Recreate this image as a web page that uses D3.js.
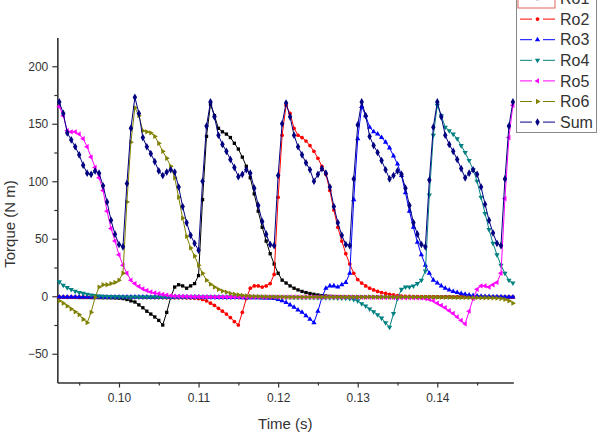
<!DOCTYPE html>
<html>
<head>
<meta charset="utf-8">
<script src="https://cdn.jsdelivr.net/npm/d3@7"></script>
<style>
body { margin: 0; background: #fff; }
svg { font-family: Arial, "Liberation Sans", sans-serif; }
.axis path, .axis line { stroke: #333; stroke-width: 1.2px; }
.axis text { fill: #333; font-size: 12px; }
</style>
</head>
<body>
<div id="chart"></div>
<script>

// sample times (s)
var time = [
0.0925,0.0930,0.0935,0.0940,0.0945,0.0950,0.0955,0.0960,0.0965,0.0970,
0.0975,0.0980,0.0985,0.0990,0.0995,0.1000,0.1005,0.1010,0.1015,0.1020,
0.1025,0.1030,0.1035,0.1040,0.1045,0.1050,0.1055,0.1060,0.1065,0.1070,
0.1075,0.1080,0.1085,0.1090,0.1095,0.1100,0.1105,0.1110,0.1115,0.1120,
0.1125,0.1130,0.1135,0.1140,0.1145,0.1150,0.1155,0.1160,0.1165,0.1170,
0.1175,0.1180,0.1185,0.1190,0.1195,0.1200,0.1205,0.1210,0.1215,0.1220,
0.1225,0.1230,0.1235,0.1240,0.1245,0.1250,0.1255,0.1260,0.1265,0.1270,
0.1275,0.1280,0.1285,0.1290,0.1295,0.1300,0.1305,0.1310,0.1315,0.1320,
0.1325,0.1330,0.1335,0.1340,0.1345,0.1350,0.1355,0.1360,0.1365,0.1370,
0.1375,0.1380,0.1385,0.1390,0.1395,0.1400,0.1405,0.1410,0.1415,0.1420,
0.1425,0.1430,0.1435,0.1440,0.1445,0.1450,0.1455,0.1460,0.1465,0.1470,
0.1475,0.1480,0.1485,0.1490,0.1495];

// torque (N m), one row per 19 samples
var ro1 = [
-0.9,-0.9,-1.0,-1.0,-1.0,-1.1,-1.1,-1.1,-1.2,-1.2,-1.2,-1.3,-1.3,-1.4,-1.5,-1.7,-2.0,-2.8,-4,
-5,-7.5,-10,-13,-15.5,-18,-21,-25,-14,-1,8,10,9,7,9,11,18,84,139,
167,157,146,143,141,138,133,128,121,113,103,89,74,60,48,37,28,20,14,
11.5,9,7,5.5,4.2,3.2,2.4,1.7,1.1,0.6,0.2,-0.1,-0.2,-0.3,-0.4,-0.5,-0.5,-0.6,-0.6,
-0.7,-0.7,-0.7,-0.7,-0.7,-0.7,-0.7,-0.7,-0.7,-0.7,-0.7,-0.7,-0.7,-0.7,-0.7,-0.7,-0.7,-0.7,-0.7,
-0.7,-0.7,-0.6,-0.7,-0.8,-0.7,-0.6,-0.7,-0.7,-0.8,-0.7,-0.6,-0.7,-0.7,-0.8,-0.7,-0.7,-0.8,-0.8,
-0.9];

var ro2 = [
-0.7,-0.7,-0.6,-0.7,-0.8,-0.7,-0.6,-0.7,-0.7,-0.8,-0.7,-0.6,-0.7,-0.7,-0.8,-0.7,-0.7,-0.8,-0.8,
-0.9,-0.9,-1.0,-1.0,-1.0,-1.1,-1.1,-1.1,-1.2,-1.2,-1.2,-1.3,-1.3,-1.4,-1.5,-1.7,-2.0,-2.8,-4,
-6,-8,-10.5,-13,-15.5,-18.5,-22,-25,-14,-2,7,9,9,8,9,11,19,86,140,
166,159,146,140,138,135,131,126,120,113,106,92,75,60,48,37,28,20,14.5,
11.5,9,7,5.5,4.2,3.2,2.4,1.7,1.1,0.6,0.2,-0.1,-0.2,-0.3,-0.4,-0.5,-0.5,-0.6,-0.6,
-0.7,-0.7,-0.7,-0.7,-0.7,-0.7,-0.7,-0.7,-0.7,-0.7,-0.7,-0.7,-0.7,-0.7,-0.7,-0.7,-0.7,-0.7,-0.7,
-0.7];

var ro3 = [
-0.7,-0.7,-0.7,-0.7,-0.7,-0.7,-0.7,-0.7,-0.7,-0.7,-0.7,-0.7,-0.7,-0.7,-0.7,-0.7,-0.7,-0.7,-0.7,
-0.7,-0.7,-0.6,-0.7,-0.8,-0.7,-0.6,-0.7,-0.7,-0.8,-0.7,-0.6,-0.7,-0.7,-0.8,-0.7,-0.7,-0.8,-0.8,
-0.9,-0.9,-1.0,-1.0,-1.0,-1.1,-1.1,-1.1,-1.2,-1.2,-1.2,-1.3,-1.3,-1.4,-1.5,-1.7,-2.0,-2.8,-4,
-5.5,-7.5,-9.5,-12,-14,-17,-20,-23,-13,-1,7,9,9,8,10,12,20,84,137,
165,157,147,143,141,138,134,129,122,115,105,90,74,60,47,36,27,20,14,
11.5,9,7,5.5,4.2,3.2,2.4,1.7,1.1,0.6,0.2,-0.1,-0.2,-0.3,-0.4,-0.5,-0.5,-0.6,-0.6,
-0.7];

var ro4 = [
12.5,9.5,7.5,5.8,4.4,3.3,2.5,1.7,1.1,0.6,0.2,-0.1,-0.2,-0.3,-0.4,-0.5,-0.5,-0.6,-0.6,
-0.7,-0.7,-0.7,-0.7,-0.7,-0.7,-0.7,-0.7,-0.7,-0.7,-0.7,-0.7,-0.7,-0.7,-0.7,-0.7,-0.7,-0.7,-0.7,
-0.7,-0.7,-0.6,-0.7,-0.8,-0.7,-0.6,-0.7,-0.7,-0.8,-0.7,-0.6,-0.7,-0.7,-0.8,-0.7,-0.7,-0.8,-0.8,
-0.9,-0.9,-1.0,-1.0,-1.0,-1.1,-1.1,-1.1,-1.2,-1.2,-1.2,-1.3,-1.3,-1.4,-1.5,-1.7,-2.0,-2.8,-4,
-6.5,-8.5,-11,-13.5,-16,-19,-23,-27,-15,-2,6,8,8,9,11,14,22,88,140,
166,157,147,144,141,137,131,125,118,110,100,86,72,58,46,36,27,20,14,
11.5];

var ro5 = [
165,157,144,143,143,141,137,130,121,112,103,92,74,59,48,36,27,20,14,
11,8.5,6.5,5,3.8,2.9,2.2,1.6,1.0,0.5,0.1,-0.1,-0.2,-0.3,-0.4,-0.5,-0.5,-0.6,-0.6,
-0.7,-0.7,-0.7,-0.7,-0.7,-0.7,-0.7,-0.7,-0.7,-0.7,-0.7,-0.7,-0.7,-0.7,-0.7,-0.7,-0.7,-0.7,-0.7,
-0.7,-0.7,-0.6,-0.7,-0.8,-0.7,-0.6,-0.7,-0.7,-0.8,-0.7,-0.6,-0.7,-0.7,-0.8,-0.7,-0.7,-0.8,-0.8,
-0.9,-0.9,-1.0,-1.0,-1.0,-1.1,-1.1,-1.1,-1.2,-1.2,-1.2,-1.3,-1.3,-1.4,-1.5,-1.7,-2.0,-2.8,-4,
-6,-8,-10,-12.5,-15,-18,-21,-24,-13,-2,6,9,9,8,10,12,20,85,138,
166];

var ro6 = [
-4,-6,-8.5,-11,-13.5,-16,-20,-23,-14,-1,8,10,10,11,12,14,20,82,134,
164,157,144,143,142,139,133,126,120,113,103,86,68,52,42,35,27,20,14,
10.5,8,6,4.5,3.5,2.5,1.8,1.2,0.8,0.4,0.1,-0.1,-0.2,-0.3,-0.4,-0.5,-0.5,-0.6,-0.6,
-0.7,-0.7,-0.7,-0.7,-0.7,-0.7,-0.7,-0.7,-0.7,-0.7,-0.7,-0.7,-0.7,-0.7,-0.7,-0.7,-0.7,-0.7,-0.7,
-0.7,-0.7,-0.6,-0.7,-0.8,-0.7,-0.6,-0.7,-0.7,-0.8,-0.7,-0.6,-0.7,-0.7,-0.8,-0.7,-0.7,-0.8,-0.8,
-0.9,-0.9,-1.0,-1.0,-1.0,-1.1,-1.1,-1.1,-1.2,-1.2,-1.2,-1.3,-1.3,-1.4,-1.5,-1.7,-2.0,-2.8,-4,
-6];

var sum = [
169,159,142,136,130,123,114,107,106,109,107,96,82,66,54,45,43,98,146,
173,159,138,130,124,117,109,105,108,110,108,95,78,64,53,46,40,100,148,
169,156,140,132,126,119,112,104,106,110,107,94,79,65,54,45,44,105,150,
168,156,140,130,123,116,110,100,106,111,107,95,78,64,53,45,44,102,149,
169,157,139,131,125,118,110,102,105,109,106,94,79,64,54,45,43,101,147,
169,156,140,132,126,119,111,103,107,110,106,95,80,66,55,46,44,102,148,
169];

var seriesNames  = ["Ro1", "Ro2", "Ro3", "Ro4", "Ro5", "Ro6", "Sum"];
var seriesValues = [ro1, ro2, ro3, ro4, ro5, ro6, sum];
var seriesColors = ["#000000", "#ff0000", "#0000ff", "#008080", "#ff00ff", "#808000", "#000080"];

var xTicks = [0.10, 0.11, 0.12, 0.13, 0.14];
var xMinorTicks = [0.095, 0.105, 0.115, 0.125, 0.135, 0.145];
var yTicks = [-50, 0, 50, 100, 150, 200];
var yMinorTicks = [-25, 25, 75, 125, 175];

var W = 607, H = 434;
var margin = { top: 37.5, right: 93.7, bottom: 51.5, left: 57.3 };

var svg = d3.select("#chart").append("svg")
    .attr("width", W)
    .attr("height", H);

var x = d3.scaleLinear()
    .domain([0.09225, 0.14955])
    .range([margin.left, W - margin.right]);

var y = d3.scaleLinear()
    .domain([-75, 225])
    .range([H - margin.bottom, margin.top]);

// symbols: square, circle, triangles up/down/left/right, diamond
var symbolDefs = [
    { type: d3.symbolSquare,   size: 11, rot: 0 },
    { type: d3.symbolCircle,   size: 11, rot: 0 },
    { type: d3.symbolTriangle, size: 12, rot: 0 },
    { type: d3.symbolTriangle, size: 12, rot: 180 },
    { type: d3.symbolTriangle, size: 12, rot: -90 },
    { type: d3.symbolTriangle, size: 12, rot: 90 },
    { type: d3.symbolDiamond,  size: 17, rot: 0 }
];

// axes
var xAxis = d3.axisBottom(x).tickValues(xTicks).tickFormat(d3.format(".2f"))
    .tickSize(5).tickSizeOuter(0).tickPadding(6);
var xMinor = d3.axisBottom(x).tickValues(xMinorTicks).tickFormat("")
    .tickSize(3).tickSizeOuter(0);
var yAxis = d3.axisLeft(y).tickValues(yTicks).tickSize(5).tickSizeOuter(0).tickPadding(4);
var yMinor = d3.axisLeft(y).tickValues(yMinorTicks).tickFormat("").tickSize(3).tickSizeOuter(0);

var gx = H - margin.bottom;
svg.append("g").attr("class", "axis").attr("transform", "translate(0," + gx + ")").call(xMinor);
svg.append("g").attr("class", "axis").attr("transform", "translate(0," + gx + ")").call(xAxis);
svg.append("g").attr("class", "axis").attr("transform", "translate(" + margin.left + ",0)").call(yMinor);
svg.append("g").attr("class", "axis").attr("transform", "translate(" + margin.left + ",0)").call(yAxis);

// axis titles
svg.append("text")
    .attr("x", (margin.left + W - margin.right) / 2)
    .attr("y", 429)
    .attr("text-anchor", "middle")
    .attr("font-size", 15)
    .attr("fill", "#333")
    .text("Time (s)");

svg.append("text")
    .attr("transform", "translate(15,224) rotate(-90)")
    .attr("text-anchor", "middle")
    .attr("font-size", 15)
    .attr("fill", "#333")
    .text("Torque (N m)");

// series
var line = d3.line()
    .x(function(d, i) { return x(time[i]); })
    .y(function(d) { return y(d); });

seriesValues.forEach(function(vals, s) {
    var g = svg.append("g").attr("class", "series");
    g.append("path")
        .datum(vals)
        .attr("d", line)
        .attr("fill", "none")
        .attr("stroke", seriesColors[s])
        .attr("stroke-width", 1);

    var sym = d3.symbol().type(symbolDefs[s].type).size(symbolDefs[s].size);
    g.selectAll("path.pt")
        .data(vals)
        .enter().append("path")
        .attr("class", "pt")
        .attr("d", sym)
        .attr("fill", seriesColors[s])
        .attr("transform", function(d, i) {
            return "translate(" + x(time[i]) + "," + y(d) + ") rotate(" + symbolDefs[s].rot + ")";
        });
});

// legend (its top edge runs off the page, as in the source figure)
var legend = svg.append("g").attr("class", "legend");
legend.append("rect")
    .attr("x", 516.5).attr("y", -10)
    .attr("width", 80).attr("height", 142.5)
    .attr("fill", "#fff")
    .attr("stroke", "#888");

seriesNames.forEach(function(name, s) {
    var cy = -1.5 + s * 20.6;
    var row = legend.append("g");
    row.append("line").attr("x1", 520).attr("x2", 532).attr("y1", cy).attr("y2", cy)
        .attr("stroke", seriesColors[s]);
    row.append("line").attr("x1", 543).attr("x2", 555).attr("y1", cy).attr("y2", cy)
        .attr("stroke", seriesColors[s]);
    row.append("path")
        .attr("d", d3.symbol().type(symbolDefs[s].type).size(symbolDefs[s].size)())
        .attr("fill", seriesColors[s])
        .attr("transform", "translate(537.5," + cy + ") rotate(" + symbolDefs[s].rot + ")");
    row.append("text")
        .attr("x", 560).attr("y", cy).attr("dy", "0.36em")
        .attr("font-size", 16)
        .attr("fill", "#333")
        .text(name);
});

// selection box around the first legend entry
legend.append("rect")
    .attr("x", 518).attr("y", -12)
    .attr("width", 37).attr("height", 20)
    .attr("fill", "none")
    .attr("stroke", "#e06060");

</script>
</body>
</html>
